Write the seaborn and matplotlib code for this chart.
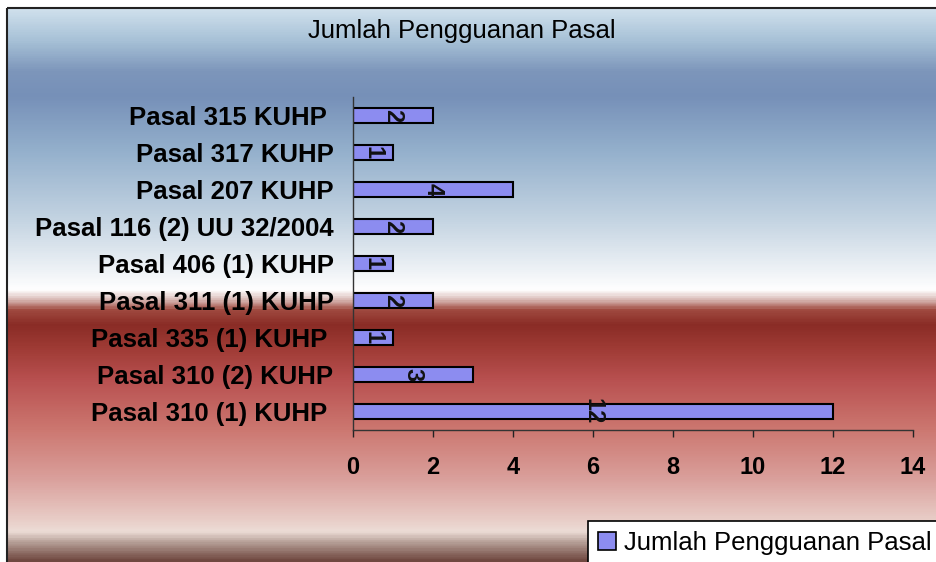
import numpy as np
import pandas as pd
import matplotlib
matplotlib.use("Agg")
import matplotlib.pyplot as plt
from matplotlib.colors import LinearSegmentedColormap
from matplotlib.patches import Rectangle
import seaborn as sns

categories = ["Pasal 315 KUHP ", "Pasal 317 KUHP", "Pasal 207 KUHP",
              "Pasal 116 (2) UU 32/2004", "Pasal 406 (1) KUHP", "Pasal 311 (1) KUHP",
              "Pasal 335 (1) KUHP ", "Pasal 310 (2) KUHP", "Pasal 310 (1) KUHP "]
values = [2, 1, 4, 2, 1, 2, 1, 3, 12]
series_name = "Jumlah Pengguanan Pasal"
title = "Jumlah Pengguanan Pasal"
xticks = [0, 2, 4, 6, 8, 10, 12, 14]

df = pd.DataFrame({"Pasal": categories, "Jumlah": values})

sns.set_style("white")
plt.rcParams['font.family'] = ['Liberation Sans', 'DejaVu Sans']

W, H = 936, 562
fig = plt.figure(figsize=(W / 100, H / 100), dpi=100)
fig.patch.set_facecolor("white")

# background gradient (chart area)
stops = [(10, "#cfe0ec"), (40, "#a6c0d6"), (70, "#7d96bb"), (95, "#7690b8"),
         (150, "#94b0cc"), (220, "#c4d4e2"), (270, "#eef2f6"), (290, "#ffffff"),
         (300, "#d8b8b4"), (310, "#a04a40"), (325, "#8a2c26"), (350, "#a03c36"),
         (380, "#b85050"), (430, "#cc7770"), (480, "#daa09c"), (520, "#e8ccc6"),
         (533, "#ecdcd6"), (545, "#b09890"), (562, "#704840")]
y0, y1 = 8, 562
pos = [(y - y0) / (y1 - y0) for y, _ in stops]
pos[0] = 0.0
pos[-1] = 1.0
cmap = LinearSegmentedColormap.from_list("bg", list(zip(pos, [c for _, c in stops])))
bg = fig.add_axes([0, 0, 1, 1])
bg.set_xlim(0, W)
bg.set_ylim(H, 0)
bg.axis("off")
grad = np.linspace(0, 1, 600).reshape(-1, 1)
bg.imshow(grad, cmap=cmap, aspect="auto", extent=[7, W + 2, y1, y0], interpolation="bilinear")
bg.add_patch(Rectangle((7, 8), W, H, fill=False, edgecolor="#222222", lw=1.5))
bg.text(462, 31, title, ha="center", va="center", fontsize=18.5, color="black")

# main plot
ax = fig.add_axes([353 / W, 1 - 430 / H, (913 - 353) / W, (430 - 97) / H])
ax.patch.set_alpha(0)
sns.barplot(data=df, x="Jumlah", y="Pasal", orient="h", ax=ax, color="#8c8cf0",
            saturation=1, width=0.38, edgecolor="black", linewidth=1.5,
            label=series_name)
ax.set_xlim(0, 14)
ax.set_xticks(xticks)
ax.set_xticklabels([str(t) for t in xticks], fontsize=17, fontweight="bold", color="black")
ax.set_xlabel("")
ax.set_ylabel("")
for lab in ax.get_yticklabels():
    lab.set_fontweight("bold")
    lab.set_fontsize(18.5)
    lab.set_color("black")
ax.tick_params(axis="x", direction="out", length=5, width=1, color="#222222", pad=14, bottom=True)
ax.tick_params(axis="y", length=0, pad=14)
for s in ["top", "right"]:
    ax.spines[s].set_visible(False)
for s in ["left", "bottom"]:
    ax.spines[s].set_color("#333333")
    ax.spines[s].set_linewidth(1.0)

ax.bar_label(ax.containers[0], labels=[str(v) for v in values], label_type="center",
             rotation=-90, fontsize=17, fontweight="bold", color="#111111")

leg = ax.legend(loc="upper left", bbox_to_anchor=(588 / W, 1 - 521 / H),
                bbox_transform=fig.transFigure, frameon=True, fancybox=False,
                fontsize=18.5, handlelength=0.7, handleheight=0.7, handletextpad=0.3,
                borderaxespad=0, borderpad=0.4)
leg.get_frame().set_edgecolor("black")
leg.get_frame().set_facecolor("white")
leg.get_frame().set_alpha(1)
leg.get_frame().set_linewidth(1.2)
for t in leg.get_texts():
    t.set_color("black")
for h in leg.legend_handles:
    h.set_linewidth(1.2)

fig.savefig("out.png", dpi=100)
